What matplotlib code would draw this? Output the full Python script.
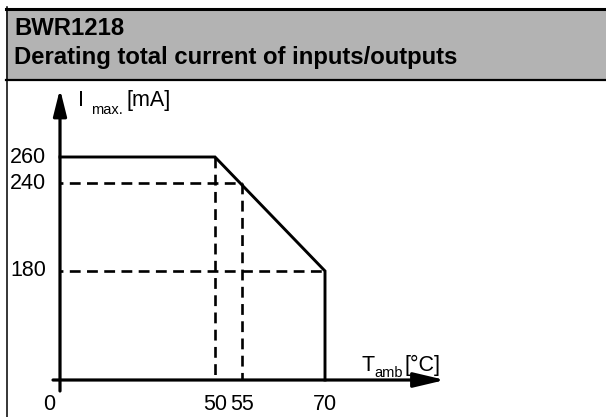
import numpy as np
import matplotlib
matplotlib.use('Agg')
import matplotlib.pyplot as plt
from matplotlib.patches import Rectangle
from matplotlib.lines import Line2D

plt.rcParams['font.family'] = ['Liberation Sans', 'DejaVu Sans']

# data
title1 = "BWR1218"
title2 = "Derating total current of inputs/outputs"
t_curve = [0, 50, 70, 70]
i_curve = [260, 260, 180, 0]
x_ticks = [0, 50, 55, 70]
y_ticks = [260, 240, 180]
# dashed helper lines (from, to)
dash_h = [(240, 0, 55), (180, 0, 70)]
dash_v = [(50, 260, 0), (55, 240, 0)]

W, H = 606, 417
fig = plt.figure(figsize=(W / 100, H / 100), dpi=100)

# header box
fig.patches.append(Rectangle((6 / W, 1 - 80 / H), (W - 6) / W, 72 / H,
                             transform=fig.transFigure, facecolor='#b3b3b3',
                             edgecolor='none'))
fig.lines.append(Line2D([6 / W, 1], [1 - 8.5 / H] * 2, transform=fig.transFigure,
                        color='k', lw=2.2))
fig.lines.append(Line2D([6 / W, 1], [1 - 80 / H] * 2, transform=fig.transFigure,
                        color='k', lw=1.6))
fig.lines.append(Line2D([6.5 / W] * 2, [0, 1 - 7 / H], transform=fig.transFigure,
                        color='k', lw=1.1))
fig.text(14 / W, 1 - 35 / H, title1, fontsize=17.2, fontweight='bold', va='baseline')
fig.text(14 / W, 1 - 64 / H, title2, fontsize=17.2, fontweight='bold', va='baseline')

# schematic (non linear) axes
xd = [-100, 0, 50, 55, 70, 200]
xp = [-250, 60, 215, 242, 325, 1040]
yd = [-200, 0, 180, 240, 260, 500]
yp = [-83, 37, 146, 234, 260, 572]

ax = fig.add_axes([0, 0, 1, 1])
ax.set_xscale('function', functions=(lambda v: np.interp(v, xd, xp),
                                     lambda v: np.interp(v, xp, xd)))
ax.set_yscale('function', functions=(lambda v: np.interp(v, yd, yp),
                                     lambda v: np.interp(v, yp, yd)))
ax.set_xlim(np.interp(0, xp, xd), np.interp(W, xp, xd))
ax.set_ylim(np.interp(0, yp, yd), np.interp(H, yp, yd))
ax.axis('off')

# axes arrows
ax.annotate('', xy=(445 / W, 0), xytext=(53 / W, 0),
            xycoords=ax.get_yaxis_transform(),
            arrowprops=dict(arrowstyle='-|>,head_length=1.9,head_width=0.45',
                            mutation_scale=10, color='k', lw=2.3, shrinkA=0, shrinkB=0))
ax.annotate('', xy=(0, 1 - 89 / H), xytext=(0, 1 - 391 / H),
            xycoords=ax.get_xaxis_transform(),
            arrowprops=dict(arrowstyle='-|>,head_length=1.6,head_width=0.4',
                            mutation_scale=10, color='k', lw=2.3, shrinkA=0, shrinkB=0))

lw_d = 1.9
for y, x0, x1 in dash_h:
    ax.plot([x0, x1], [y, y], color='k', lw=lw_d, ls=(3, (7.8 / lw_d, 4.6 / lw_d)))
for x, y0, y1 in dash_v:
    ax.plot([x, x], [y0, y1], color='k', lw=lw_d, ls=(0, (7.8 / lw_d, 4.6 / lw_d)))

ax.plot(t_curve, i_curve, color='k', lw=2.1, solid_joinstyle='miter')

for v in y_ticks:
    ax.annotate(str(v), (0, v), xytext=(-10, 0), textcoords='offset points',
                ha='right', va='center', fontsize=15.5)
for v in x_ticks:
    dx = -8 if v == 0 else 0
    ax.annotate(str(v), (v, 0), xytext=(dx, -10), textcoords='offset points',
                ha='center', va='top', fontsize=15.5)

# axis titles
fig.text(78 / W, 1 - 106 / H, "I", fontsize=15.5, va='baseline')
fig.text(91 / W, 1 - 114 / H, "max.", fontsize=10.5, va='baseline')
fig.text(127 / W, 1 - 106 / H, "[mA]", fontsize=15.5, va='baseline')
fig.text(362 / W, 1 - 371 / H, "T", fontsize=15.5, va='baseline')
fig.text(374 / W, 1 - 377 / H, "amb", fontsize=10.5, va='baseline')
fig.text(405 / W, 1 - 371 / H, "[°C]", fontsize=15.5, va='baseline')

fig.savefig('out.png', dpi=100)
